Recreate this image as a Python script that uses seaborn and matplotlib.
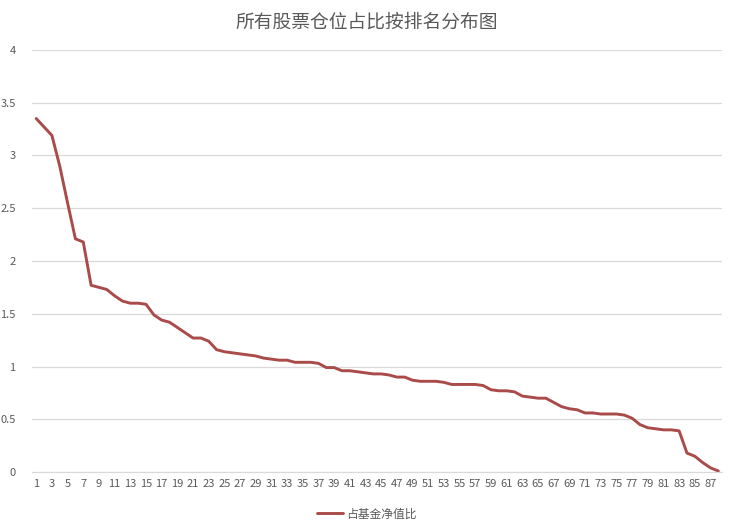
import numpy as np
import pandas as pd
import seaborn as sns
import matplotlib.pyplot as plt

# 占基金净值比 values by rank
ranks = list(range(1, 89))
values = [3.35, 3.27, 3.19, 2.90, 2.55, 2.21, 2.18, 1.77, 1.75, 1.73,
          1.67, 1.62, 1.60, 1.60, 1.59, 1.49, 1.44, 1.42, 1.37, 1.32,
          1.27, 1.27, 1.24, 1.16, 1.14, 1.13, 1.12, 1.11, 1.10, 1.08,
          1.07, 1.06, 1.06, 1.04, 1.04, 1.04, 1.03, 0.99, 0.99, 0.96,
          0.96, 0.95, 0.94, 0.93, 0.93, 0.92, 0.90, 0.90, 0.87, 0.86,
          0.86, 0.86, 0.85, 0.83, 0.83, 0.83, 0.83, 0.82, 0.78, 0.77,
          0.77, 0.76, 0.72, 0.71, 0.70, 0.70, 0.66, 0.62, 0.60, 0.59,
          0.56, 0.56, 0.55, 0.55, 0.55, 0.54, 0.51, 0.45, 0.42, 0.41,
          0.40, 0.40, 0.39, 0.18, 0.15, 0.09, 0.04, 0.01]
yticks = [0, 0.5, 1, 1.5, 2, 2.5, 3, 3.5, 4]
ytick_labels = ['0', '0.5', '1', '1.5', '2', '2.5', '3', '3.5', '4']
series_name = '占基金净值比'
title = '所有股票仓位占比按排名分布图'

df = pd.DataFrame({'rank': ranks, series_name: values})

sns.set_style('white')
plt.rcParams['font.family'] = ['Noto Sans CJK SC', 'DejaVu Sans']

fig = plt.figure(figsize=(7.34, 5.31), dpi=100)
ax = fig.add_axes([0.044, 0.111, 0.940, 0.795])

sns.lineplot(data=df, x='rank', y=series_name, ax=ax, color='#A94B49',
             linewidth=2.1, label=series_name)

ax.set_xlim(0.5, 88.5)
ax.set_ylim(0, 4)
ax.set_yticks(yticks)
ax.set_yticklabels(ytick_labels)
ax.set_xticks(ranks[::2])
ax.set_xticklabels([str(r) for r in ranks[::2]])
ax.tick_params(axis='both', length=0, labelsize=8, labelcolor='#595959')
ax.tick_params(axis='x', pad=5)
ax.tick_params(axis='y', pad=12)
ax.grid(axis='y', color='#D9D9D9', linewidth=0.9)
ax.set_axisbelow(True)
ax.set_xlabel('')
ax.set_ylabel('')
for s in ['top', 'right', 'left']:
    ax.spines[s].set_visible(False)
ax.spines['bottom'].set_color('#D9D9D9')

fig.text(0.5, 0.958, title, ha='center', va='center', fontsize=13.5, color='#595959')

leg = ax.legend(loc='center', bbox_to_anchor=(0.50, 0.032), bbox_transform=fig.transFigure,
                frameon=False, fontsize=8.5, handlelength=2.2, handletextpad=0.3)
for t in leg.get_texts():
    t.set_color('#595959')

fig.savefig('out.png', dpi=100)
